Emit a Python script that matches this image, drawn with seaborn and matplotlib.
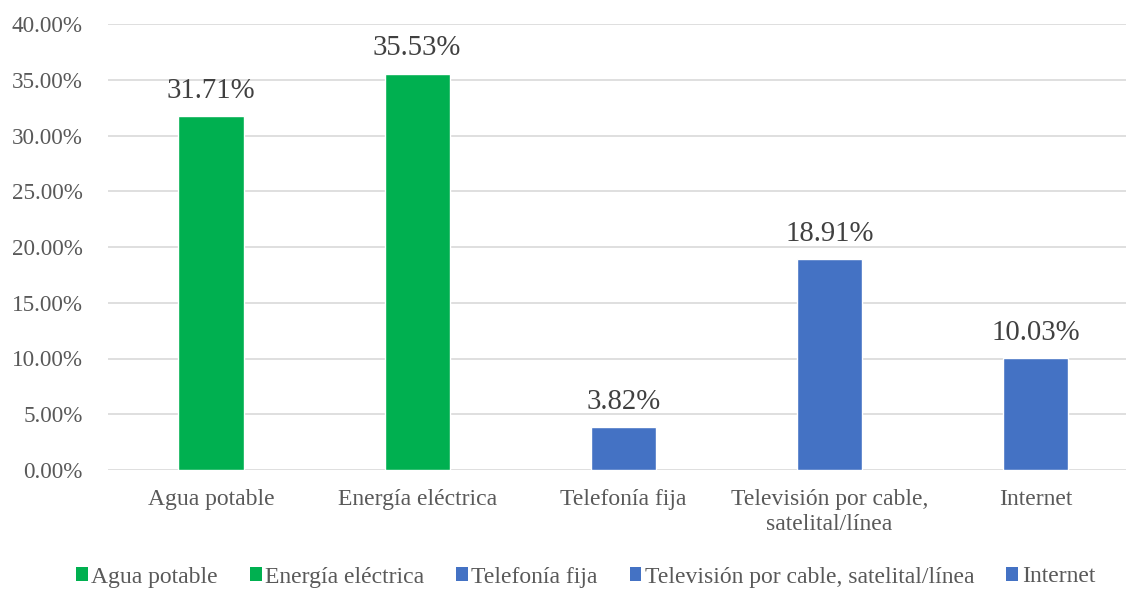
import pandas as pd
import matplotlib.pyplot as plt
import seaborn as sns
from matplotlib.patches import Patch

# Data
servicios = ['Agua potable', 'Energía eléctrica', 'Telefonía fija',
             'Televisión por cable, satelital/línea', 'Internet']
tick_labels = ['Agua potable', 'Energía eléctrica', 'Telefonía fija',
               'Televisión por cable,\nsatelital/línea', 'Internet']
porcentajes = [31.71, 35.53, 3.82, 18.91, 10.03]
colores = ['#00B050', '#00B050', '#4472C4', '#4472C4', '#4472C4']

df = pd.DataFrame({'Servicio': servicios, 'Porcentaje': porcentajes})

sns.set_style('white')
plt.rcParams['font.family'] = ['Liberation Serif', 'DejaVu Serif']
gris = '#595959'

fig = plt.figure(figsize=(11.26, 5.89), dpi=100)
ax = fig.add_axes([108 / 1126, 119 / 589, 1 - 108 / 1126, 446 / 589])

sns.barplot(data=df, x='Servicio', y='Porcentaje', hue='Servicio',
            palette=colores, width=0.316, legend=False, ax=ax, saturation=1)

ax.set_xlim(-0.5, 4.44)
ax.set_ylim(0, 40)
ax.set_yticks(range(0, 41, 5))
ax.set_yticklabels([f'{v:.2f}%' for v in range(0, 41, 5)], fontsize=16.7, color=gris)
ax.set_xticks(range(len(servicios)))
ax.set_xticklabels(tick_labels, fontsize=17, color=gris, linespacing=1.25)
ax.tick_params(axis='x', length=0, pad=14)
ax.tick_params(axis='y', length=0, pad=18)
ax.set_xlabel('')
ax.set_ylabel('')
ax.grid(axis='y', color='#D9D9D9', linewidth=1.2)
ax.set_axisbelow(True)
for s in ax.spines.values():
    s.set_visible(False)

# Etiquetas de datos
for i, v in enumerate(porcentajes):
    ax.annotate(f'{v:.2f}%', (i, v), xytext=(0, 9), textcoords='offset points',
                ha='center', va='bottom', fontsize=20.7, color='#404040')

handles = [Patch(facecolor=c, edgecolor='none') for c in colores]
fig.legend(handles, servicios, loc='center', bbox_to_anchor=(0.52, 12 / 589),
           ncol=5, frameon=False, fontsize=17, labelcolor=gris,
           handlelength=0.5, handleheight=0.5, handletextpad=0.15,
           columnspacing=1.35)

plt.savefig('out.png', dpi=100)
